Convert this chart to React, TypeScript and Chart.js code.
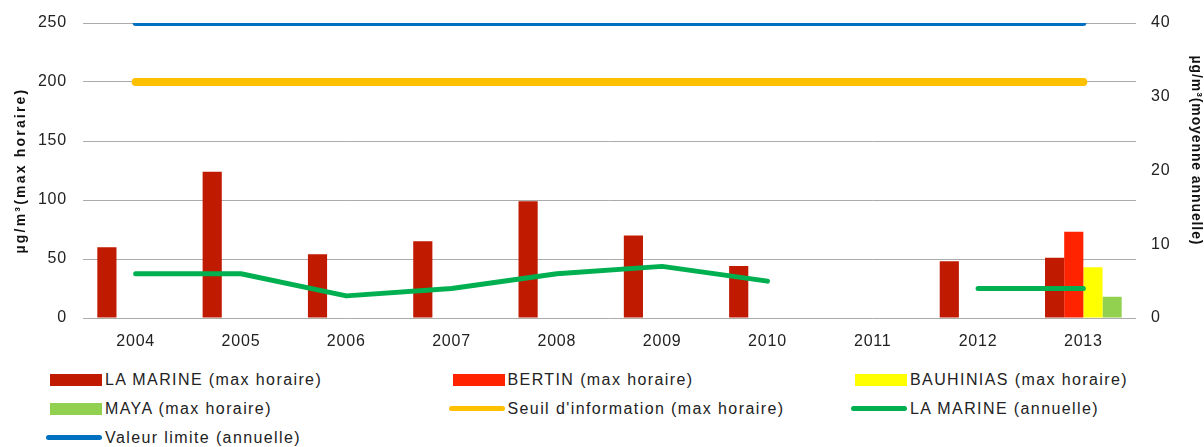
import React, { useEffect, useRef } from 'react';
import { Chart, registerables } from 'chart.js';

Chart.register(...registerables);

// ---------- data ----------
const years = ['2004', '2005', '2006', '2007', '2008', '2009', '2010', '2011', '2012', '2013'];
const laMarineMax = [60, 124, 54, 65, 99, 70, 44, null, 48, 51];
const bertinMax = [null, null, null, null, null, null, null, null, null, 73];
const bauhiniasMax = [null, null, null, null, null, null, null, null, null, 43];
const mayaMax = [null, null, null, null, null, null, null, null, null, 18];
const seuilInformation = [200, 200, 200, 200, 200, 200, 200, 200, 200, 200];
const laMarineAnnuelle = [6, 6, 3, 4, 6, 7, 5, null, 4, 4];
const valeurLimite = [40, 40, 40, 40, 40, 40, 40, 40, 40, 40];

const leftAxis = { min: 0, max: 250, step: 50 };
const rightAxis = { min: 0, max: 40, step: 10 };
const leftTitle = 'µg/m³(max horaire)';
const rightTitle = 'µg/m³(moyenne annuelle)';

type Series = {
  label: string;
  kind: 'bar' | 'line';
  color: string;
  data: (number | null)[];
  axis: 'y' | 'y1';
  width?: number;
};

const series: Series[] = [
  { label: 'LA MARINE (max horaire)', kind: 'bar', color: '#C01A00', data: laMarineMax, axis: 'y' },
  { label: 'BERTIN (max horaire)', kind: 'bar', color: '#FF2300', data: bertinMax, axis: 'y' },
  { label: 'BAUHINIAS (max horaire)', kind: 'bar', color: '#FFFF00', data: bauhiniasMax, axis: 'y' },
  { label: 'MAYA (max horaire)', kind: 'bar', color: '#92D050', data: mayaMax, axis: 'y' },
  { label: "Seuil d'information (max horaire)", kind: 'line', color: '#FFC000', data: seuilInformation, axis: 'y', width: 8 },
  { label: 'LA MARINE (annuelle)', kind: 'line', color: '#00B050', data: laMarineAnnuelle, axis: 'y1', width: 5 },
  { label: 'Valeur limite (annuelle)', kind: 'line', color: '#0070C0', data: valeurLimite, axis: 'y1', width: 6 },
];

const FONT = '"Liberation Sans", Arial, sans-serif';
const TEXT = '#222222';

const textPlugin = {
  id: 'axisTexts',
  beforeDraw(chart: any) {
    chart.ctx.letterSpacing = '0.8px';
  },
  afterDraw(chart: any) {
    const { ctx, chartArea } = chart;
    const cy = (chartArea.top + chartArea.bottom) / 2;
    ctx.save();
    ctx.font = `bold 14px ${FONT}`;
    ctx.fillStyle = '#111111';
    ctx.textAlign = 'center';
    ctx.textBaseline = 'middle';
    ctx.letterSpacing = '2.2px';
    ctx.translate(21.5, cy);
    ctx.rotate(-Math.PI / 2);
    ctx.fillText(leftTitle, 0, 0);
    ctx.restore();

    ctx.save();
    ctx.font = `bold 14px ${FONT}`;
    ctx.fillStyle = '#111111';
    ctx.textAlign = 'center';
    ctx.textBaseline = 'middle';
    ctx.letterSpacing = '0.9px';
    ctx.translate(1196, cy - 20);
    ctx.rotate(Math.PI / 2);
    ctx.fillText(rightTitle, 0, 0);
    ctx.restore();
  },
};

export default function App() {
  const ref = useRef<HTMLCanvasElement>(null);

  useEffect(() => {
    if (!ref.current) return;
    const tickFont = { family: FONT, size: 16 };
    const chart = new Chart(ref.current, {
      type: 'bar',
      data: {
        labels: years,
        datasets: series.map((s) =>
          s.kind === 'bar'
            ? {
                type: 'bar' as const,
                label: s.label,
                data: s.data,
                backgroundColor: s.color,
                borderWidth: 0,
                yAxisID: s.axis,
                categoryPercentage: 0.728,
                barPercentage: 1,
                order: 2,
              }
            : {
                type: 'line' as const,
                label: s.label,
                data: s.data,
                borderColor: s.color,
                backgroundColor: s.color,
                borderWidth: s.width,
                pointRadius: 0,
                pointHoverRadius: 0,
                fill: false,
                tension: 0,
                spanGaps: false,
                borderCapStyle: 'round' as const,
                borderJoinStyle: 'round' as const,
                yAxisID: s.axis,
                order: 1,
              }
        ) as any,
      },
      options: {
        responsive: false,
        animation: false,
        devicePixelRatio: 1,
        layout: { padding: { top: 23, left: 0, right: 0, bottom: 0 } },
        plugins: { legend: { display: false }, tooltip: { enabled: false } },
        scales: {
          x: {
            grid: { display: false },
            border: { display: false },
            ticks: { font: tickFont, color: TEXT, padding: 6, maxRotation: 0 },
            afterFit: (s: any) => {
              s.height = 42;
              s.paddingLeft = 0;
              s.paddingRight = 0;
            },
          },
          y: {
            position: 'left',
            min: leftAxis.min,
            max: leftAxis.max,
            ticks: { stepSize: leftAxis.step, font: tickFont, color: TEXT, padding: 16 },
            grid: { color: '#ababab', lineWidth: 1, drawTicks: false },
            border: { display: false },
            afterFit: (s: any) => {
              s.width = 83;
              s.paddingTop = 0;
              s.paddingBottom = 0;
            },
          },
          y1: {
            position: 'right',
            min: rightAxis.min,
            max: rightAxis.max,
            ticks: { stepSize: rightAxis.step, font: tickFont, color: TEXT, padding: 15 },
            grid: { display: false, drawTicks: false },
            border: { display: false },
            afterFit: (s: any) => {
              s.width = 68;
              s.paddingTop = 0;
              s.paddingBottom = 0;
            },
          },
        },
      } as any,
      plugins: [textPlugin],
    });
    return () => chart.destroy();
  }, []);

  const colX = (j: number) => 46 + j * 402.5;
  const rowY = (i: number) => 380 + i * 28.75;

  return (
    <div style={{ position: 'absolute', left: 0, top: 0, width: 1204, height: 447, background: '#fff', overflow: 'hidden' }}>
      <canvas ref={ref} width={1204} height={360} style={{ position: 'absolute', left: 0, top: 0, width: 1204, height: 360 }} />
      {series.map((s, k) => {
        const i = Math.floor(k / 3);
        const j = k % 3;
        return (
          <div
            key={s.label}
            style={{
              position: 'absolute',
              left: colX(j),
              top: rowY(i) - 10,
              height: 20,
              display: 'flex',
              alignItems: 'center',
              whiteSpace: 'nowrap',
            }}
          >
            <div style={{ width: 56, display: 'flex', justifyContent: 'flex-end', alignItems: 'center' }}>
              {s.kind === 'bar' ? (
                <div style={{ width: 52, height: 12, background: s.color }} />
              ) : (
                <div style={{ width: 56, height: 5, borderRadius: 3, background: s.color }} />
              )}
            </div>
            <span
              style={{
                marginLeft: 3,
                fontFamily: FONT,
                fontSize: 16,
                letterSpacing: '1.4px',
                color: TEXT,
                lineHeight: '20px',
              }}
            >
              {s.label}
            </span>
          </div>
        );
      })}
    </div>
  );
}
